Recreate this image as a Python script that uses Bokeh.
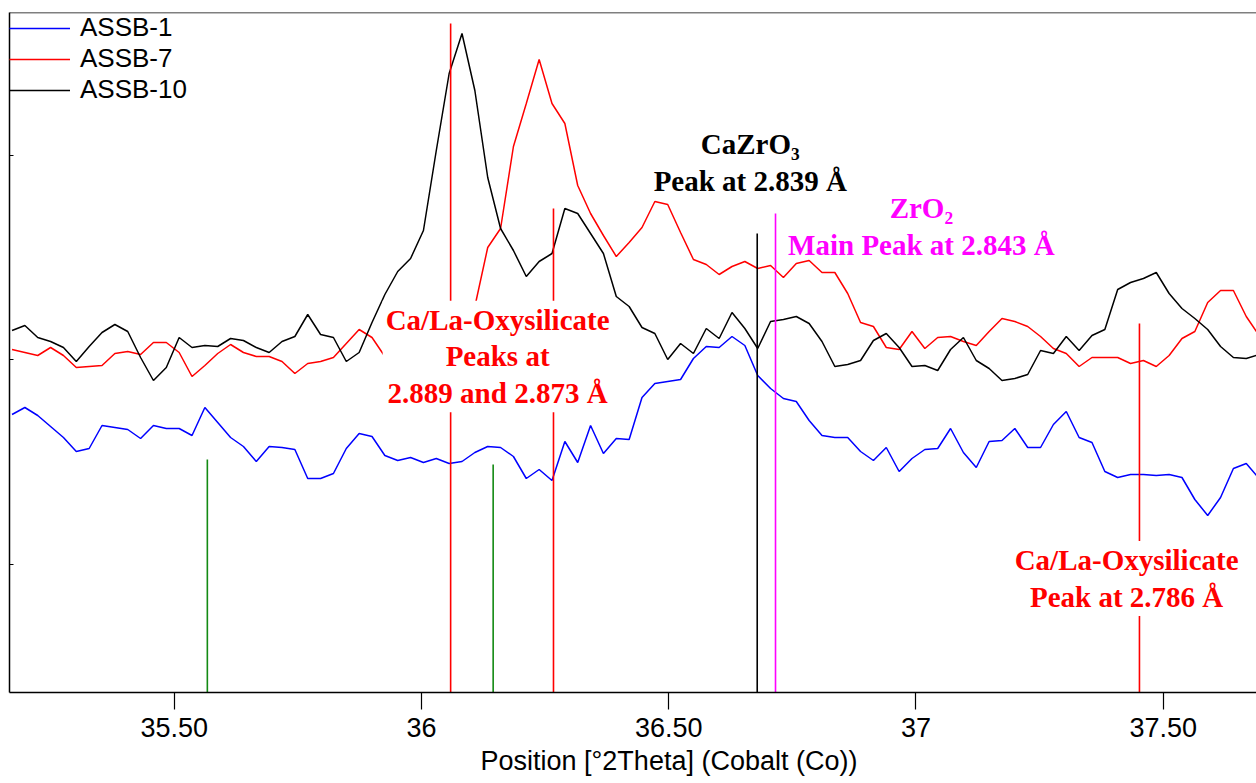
from bokeh.plotting import figure
from bokeh.models import Range1d, FixedTicker, Label, Span, Title, CustomJSTickFormatter
from bokeh.embed import file_html
from bokeh.resources import INLINE

# Scan positions (°2Theta, Co)
two_theta = [
    35.172, 35.198, 35.224, 35.250, 35.276, 35.302, 35.328, 35.354, 35.380, 35.406,
    35.432, 35.458, 35.484, 35.510, 35.536, 35.562, 35.588, 35.614, 35.640, 35.666,
    35.692, 35.718, 35.744, 35.770, 35.796, 35.822, 35.848, 35.874, 35.900, 35.926,
    35.952, 35.978, 36.004, 36.030, 36.056, 36.082, 36.108, 36.134, 36.160, 36.186,
    36.212, 36.238, 36.264, 36.290, 36.316, 36.342, 36.368, 36.394, 36.420, 36.446,
    36.472, 36.498, 36.524, 36.550, 36.576, 36.602, 36.628, 36.654, 36.680, 36.706,
    36.732, 36.758, 36.784, 36.810, 36.836, 36.862, 36.888, 36.914, 36.940, 36.966,
    36.992, 37.018, 37.044, 37.070, 37.096, 37.122, 37.148, 37.174, 37.200, 37.226,
    37.252, 37.278, 37.304, 37.330, 37.356, 37.382, 37.408, 37.434, 37.460, 37.486,
    37.512, 37.538, 37.564, 37.590, 37.616, 37.642, 37.668, 37.694,
]

# Intensities (arbitrary units, offset patterns as displayed)
assb_1 = [
    278, 285, 277, 266, 255, 241, 244, 267, 265, 263,
    254, 267, 264, 264, 257, 285, 270, 255, 246, 231,
    246, 245, 243, 214, 214, 219, 244, 259, 256, 237,
    232, 235, 230, 234, 229, 231, 240, 246, 245, 236,
    214, 223, 212, 251, 230, 267, 239, 254, 253, 295,
    309, 311, 313, 334, 346, 345, 356, 347, 317, 304,
    294, 291, 272, 257, 255, 255, 241, 232, 245, 221,
    234, 243, 244, 264, 240, 225, 251, 252, 264, 245,
    245, 268, 281, 255, 250, 221, 215, 218, 218, 217,
    218, 215, 193, 177, 195, 224, 229, 214,
]

assb_7 = [
    343, 340, 337, 345, 337, 325, 326, 327, 339, 341,
    338, 350, 350, 340, 316, 327, 339, 348, 340, 336,
    336, 331, 319, 329, 331, 335, 349, 363, 355, 336,
    338, 342, 340, 350, 360, 372, 386, 445, 464, 546,
    589, 633, 589, 569, 507, 479, 457, 436, 450, 465,
    491, 488, 460, 433, 428, 418, 426, 431, 424, 427,
    415, 429, 432, 420, 420, 399, 370, 366, 345, 343,
    361, 344, 355, 356, 351, 347, 361, 374, 371, 366,
    356, 344, 339, 326, 335, 335, 335, 329, 332, 326,
    337, 354, 361, 390, 402, 402, 376, 357,
]

assb_10 = [
    362, 367, 355, 351, 345, 331, 346, 360, 368, 361,
    335, 312, 325, 355, 345, 347, 346, 354, 352, 345,
    340, 351, 356, 378, 358, 355, 331, 340, 370, 398,
    421, 434, 462, 542, 619, 659, 602, 515, 464, 442,
    416, 431, 439, 484, 479, 459, 439, 396, 386, 365,
    359, 333, 349, 339, 364, 354, 380, 364, 344, 371,
    373, 376, 369, 351, 326, 328, 332, 352, 359, 345,
    326, 327, 322, 343, 355, 332, 324, 312, 314, 318,
    342, 339, 356, 342, 357, 363, 403, 410, 414, 420,
    399, 384, 374, 363, 346, 335, 334, 338,
]

series_names = ["ASSB-1", "ASSB-7", "ASSB-10"]
series_colors = ["#0000ff", "#ff0000", "#000000"]

# Reference peak sticks
ref_two_theta = [35.567, 36.145, 36.059, 36.267, 36.679, 36.716, 37.452]
ref_height = [233, 228, 669, 484, 459, 479, 369]
ref_color = ["#138a13", "#138a13", "#ff0000", "#ff0000", "#000000", "#ff00ff", "#ff0000"]

x_ticks = [35.5, 36.0, 36.5, 37.0, 37.5]
x_tick_labels = ["35.50", "36", "36.50", "37", "37.50"]
y_ticks = [128, 333, 537]
x_title = "Position [°2Theta] (Cobalt (Co))"

p = figure(width=1256, height=783, output_backend="svg", toolbar_location=None,
           x_range=Range1d(35.1669, 37.6887), y_range=Range1d(0, 680),
           min_border_left=9, min_border_right=0, min_border_top=12, min_border_bottom=91)
p.outline_line_color = None
p.background_fill_color = "white"
p.border_fill_color = "white"
p.xgrid.visible = False
p.ygrid.visible = False

for vals, name, col in zip([assb_1, assb_7, assb_10], series_names, series_colors):
    p.line(two_theta, vals, line_color=col, line_width=1.5, legend_label=name)

p.segment(x0=ref_two_theta, y0=[0] * len(ref_two_theta), x1=ref_two_theta, y1=ref_height,
          line_color=ref_color, line_width=1.6)

# axes
p.xaxis.ticker = FixedTicker(ticks=x_ticks, minor_ticks=[])
p.xaxis.formatter = CustomJSTickFormatter(args=dict(tvals=x_ticks, tlabels=x_tick_labels), code="""
    for (let i = 0; i < tvals.length; i++) { if (Math.abs(tvals[i] - tick) < 1e-6) return tlabels[i]; }
    return "";
""")
p.xaxis.major_tick_out = 17
p.xaxis.major_tick_in = 0
p.xaxis.major_label_standoff = 8
p.xaxis.major_label_text_font = "Liberation Sans"
p.xaxis.major_label_text_font_size = "27px"
p.xaxis.major_label_text_color = "black"
p.xaxis.axis_line_width = 1.5
p.xaxis.major_tick_line_width = 1.2

p.yaxis.ticker = FixedTicker(ticks=y_ticks, minor_ticks=[])
p.yaxis.formatter = CustomJSTickFormatter(code='return ""')
p.yaxis.major_tick_in = 4
p.yaxis.major_tick_out = 0
p.yaxis.major_label_standoff = 0
p.yaxis.axis_line_width = 1.5

p.add_layout(Span(location=680, dimension="width", line_color="black", line_width=1.5))

# x-axis title (the original frame runs past the right edge, so it is off-centre)
p.add_layout(Title(text=x_title, align="left", offset=471, vertical_align="bottom",
                   text_font="Liberation Sans", text_font_size="27px", text_color="black",
                   text_font_style="normal", standoff=9), "below")

# legend
leg = p.legend[0]
leg.location = "top_left"
leg.margin = 0
leg.padding = 1
leg.spacing = 0
leg.glyph_width = 61
leg.glyph_height = 30
leg.label_height = 30
leg.label_standoff = 10
leg.label_text_font = "Liberation Sans"
leg.label_text_font_size = "26px"
leg.label_text_color = "black"
leg.border_line_color = None
leg.background_fill_alpha = 0

# annotations
def note(x, y, text, color, bg):
    lab = Label(x=x, y=y, text=text, text_align="center", text_baseline="middle",
                text_font="Liberation Serif", text_font_size="29px", text_font_style="bold",
                text_color=color, text_line_height=1.15, padding=3)
    if bg:
        lab.background_fill_color = "white"
    p.add_layout(lab)

note(36.154, 336, "Ca/La-Oxysilicate\nPeaks at\n2.889 and 2.873 Å", "#ff0000", True)
note(36.665, 530, "CaZrO\u2083\nPeak at 2.839 Å", "#000000", False)
note(37.011, 466, "ZrO\u2082\nMain Peak at 2.843 Å", "#ff00ff", False)
note(37.426, 114, "Ca/La-Oxysilicate\nPeak at 2.786 Å", "#ff0000", True)

open("out.html", "w").write(file_html(p, INLINE))
